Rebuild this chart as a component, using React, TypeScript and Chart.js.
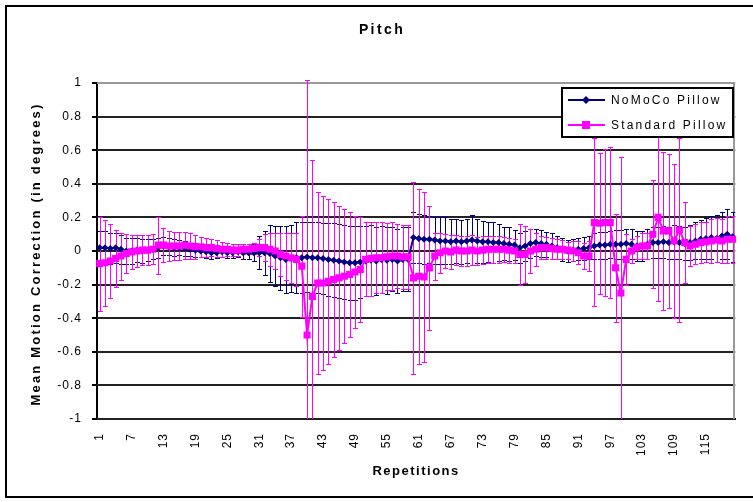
import React, { useEffect, useRef } from "react";
import { Chart, registerables } from "chart.js";

Chart.register(...registerables);

const TITLE = "Pitch";
const X_TITLE = "Repetitions";
const Y_TITLE = "Mean Motion Correction (in degrees)";
const SERIES_NAMES = ["NoMoCo Pillow", "Standard Pillow"];
const X_LABEL_STEP = 6;
const Y_MIN = -1;
const Y_MAX = 1;
const Y_STEP = 0.2;

const repetitions = Array.from({ length: 120 }, (_, i) => String(i + 1));

const nomocoMean = [
  0.02, 0.02, 0.015, 0.02, 0.01,
  0.0, 0.0, 0.005, 0.0, 0.005,
  0.01, 0.02, 0.03, 0.025, 0.02,
  0.02, 0.015, 0.01, 0.005, 0.0,
  -0.005, -0.01, -0.01, -0.005, -0.01,
  -0.01, -0.005, -0.01, -0.01, -0.01,
  -0.01, -0.01, -0.015, -0.03, -0.04,
  -0.05, -0.045, -0.04, -0.04, -0.035,
  -0.04, -0.04, -0.045, -0.05, -0.055,
  -0.06, -0.065, -0.07, -0.07, -0.065,
  -0.06, -0.055, -0.06, -0.05, -0.055,
  -0.05, -0.06, -0.05, -0.05, 0.08,
  0.075, 0.07, 0.07, 0.065, 0.06,
  0.06, 0.055, 0.06, 0.055, 0.06,
  0.065, 0.06, 0.055, 0.055, 0.05,
  0.05, 0.045, 0.04, 0.035, 0.02,
  0.03, 0.045, 0.05, 0.045, 0.04,
  0.03, 0.02, 0.01, 0.0, 0.005,
  0.01, 0.015, 0.02, 0.03, 0.035,
  0.035, 0.04, 0.04, 0.04, 0.045,
  0.04, 0.03, 0.03, 0.04, 0.05,
  0.05, 0.055, 0.05, 0.055, 0.05,
  0.045, 0.05, 0.06, 0.07, 0.075,
  0.08, 0.075, 0.09, 0.1, 0.085,
];

const nomocoErr = [
  0.1, 0.1, 0.09, 0.09, 0.085,
  0.08, 0.075, 0.07, 0.07, 0.065,
  0.06, 0.06, 0.055, 0.05, 0.05,
  0.045, 0.045, 0.04, 0.04, 0.035,
  0.035, 0.035, 0.03, 0.03, 0.03,
  0.03, 0.03, 0.035, 0.04, 0.05,
  0.1, 0.13, 0.17, 0.18, 0.19,
  0.2, 0.2, 0.21, 0.21, 0.21,
  0.21, 0.21, 0.21, 0.215, 0.22,
  0.22, 0.22, 0.22, 0.22, 0.215,
  0.21, 0.21, 0.2, 0.2, 0.2,
  0.19, 0.19, 0.19, 0.19, 0.15,
  0.145, 0.145, 0.14, 0.14, 0.14,
  0.14, 0.135, 0.13, 0.13, 0.13,
  0.15, 0.13, 0.125, 0.12, 0.12,
  0.11, 0.1, 0.1, 0.09, 0.09,
  0.09, 0.085, 0.08, 0.08, 0.075,
  0.075, 0.07, 0.07, 0.065, 0.065,
  0.065, 0.07, 0.07, 0.075, 0.08,
  0.08, 0.08, 0.085, 0.085, 0.085,
  0.09, 0.09, 0.09, 0.09, 0.09,
  0.09, 0.095, 0.095, 0.1, 0.1,
  0.1, 0.105, 0.11, 0.115, 0.12,
  0.13, 0.14, 0.14, 0.15, 0.15,
];

const standardMean = [
  -0.075, -0.07, -0.06, -0.045, -0.03,
  -0.015, -0.005, 0.0, 0.005, 0.005,
  0.01, 0.035, 0.035, 0.03, 0.03,
  0.03, 0.035, 0.03, 0.025, 0.025,
  0.02, 0.02, 0.015, 0.01, 0.01,
  0.005, 0.005, 0.01, 0.01, 0.015,
  0.02, 0.02, 0.01, 0.0, -0.02,
  -0.03, -0.04, -0.05, -0.09, -0.5,
  -0.27, -0.19, -0.19, -0.18, -0.17,
  -0.16, -0.15, -0.14, -0.125, -0.11,
  -0.05, -0.045, -0.04, -0.04, -0.035,
  -0.03, -0.03, -0.035, -0.035, -0.16,
  -0.15, -0.155, -0.1, -0.03, -0.01,
  0.0, -0.005, 0.005, 0.0, 0.0,
  0.005, 0.0, 0.005, 0.01, 0.01,
  0.01, 0.01, 0.005, 0.0, -0.02,
  -0.02, 0.0, 0.01, 0.02, 0.02,
  0.015, 0.01, 0.01, 0.005, 0.0,
  -0.01, -0.03, -0.03, 0.17, 0.165,
  0.17, 0.17, -0.1, -0.25, -0.05,
  0.0, 0.02, 0.03, 0.03, 0.1,
  0.2, 0.12, 0.12, 0.06, 0.125,
  0.05, 0.03, 0.04, 0.05, 0.055,
  0.06, 0.065, 0.06, 0.07, 0.07,
];

const standardErr = [
  0.28, 0.255, 0.22, 0.17, 0.14,
  0.115, 0.1, 0.095, 0.09, 0.09,
  0.09, 0.17, 0.1, 0.09, 0.085,
  0.085, 0.08, 0.075, 0.07, 0.06,
  0.055, 0.05, 0.05, 0.045, 0.04,
  0.035, 0.035, 0.03, 0.03, 0.035,
  0.05, 0.08, 0.1, 0.11, 0.13,
  0.14, 0.15, 0.16, 0.3, 1.52,
  0.81, 0.54, 0.52, 0.49, 0.46,
  0.43, 0.4, 0.37, 0.335, 0.31,
  0.22, 0.22, 0.21, 0.21, 0.2,
  0.2, 0.19, 0.19, 0.19, 0.57,
  0.52, 0.505, 0.37, 0.14, 0.12,
  0.1, 0.1, 0.09, 0.09, 0.09,
  0.09, 0.085, 0.085, 0.08, 0.08,
  0.08, 0.075, 0.075, 0.07, 0.18,
  0.17, 0.13, 0.1, 0.07, 0.065,
  0.06, 0.06, 0.055, 0.05, 0.06,
  0.07, 0.08, 0.09, 0.5, 0.42,
  0.44, 0.45, 0.32, 0.81, 0.15,
  0.07, 0.07, 0.08, 0.08, 0.32,
  0.5, 0.47, 0.46, 0.46, 0.55,
  0.24, 0.12, 0.12, 0.12, 0.12,
  0.13, 0.13, 0.13, 0.14, 0.14,
];

const NAVY = "#000080";
const MAGENTA = "#FF00FF";
const GRID = "#222222";
const FRAME = "#999999";
const FONT = "'Liberation Sans', Arial, Helvetica, sans-serif";

const decorPlugin = {
  id: "excelDecor",
  beforeDraw(chart: any) {
    const ctx = chart.ctx as CanvasRenderingContext2D;
    ctx.save();
    ctx.fillStyle = "#ffffff";
    ctx.fillRect(0, 0, chart.width, chart.height);
    ctx.strokeStyle = "#000000";
    ctx.lineWidth = 2;
    ctx.strokeRect(6, 6, 800, 491);
    ctx.restore();
    (ctx as any).letterSpacing = "1px";
  },
  beforeDatasetsDraw(chart: any) {
    const ctx = chart.ctx as CanvasRenderingContext2D;
    const area = chart.chartArea;
    const yScale = chart.scales.y;

    // horizontal gridlines (2px, like the reference)
    ctx.save();
    ctx.setLineDash([]);
    ctx.globalAlpha = 1;
    ctx.lineWidth = 2;
    const n = Math.round((Y_MAX - Y_MIN) / Y_STEP);
    for (let k = 0; k <= n; k++) {
      const v = Y_MIN + k * Y_STEP;
      const y = Math.round(yScale.getPixelForValue(v));
      ctx.strokeStyle = k === n ? FRAME : GRID;
      ctx.beginPath();
      ctx.moveTo(area.left, y);
      ctx.lineTo(area.right, y);
      ctx.stroke();
    }
    // plot-area right border
    ctx.strokeStyle = FRAME;
    ctx.beginPath();
    ctx.moveTo(Math.round(area.right) - 1, area.top);
    ctx.lineTo(Math.round(area.right) - 1, area.bottom);
    ctx.stroke();
    ctx.restore();

    const sets = [
      { idx: 0, mean: nomocoMean, err: nomocoErr, color: NAVY },
      { idx: 1, mean: standardMean, err: standardErr, color: MAGENTA },
    ];
    ctx.save();
    ctx.beginPath();
    ctx.rect(area.left, area.top - 6, area.right - area.left, area.bottom - area.top + 6);
    ctx.clip();
    ctx.lineWidth = 1;
    for (const s of sets) {
      const meta = chart.getDatasetMeta(s.idx);
      ctx.strokeStyle = s.color;
      ctx.beginPath();
      for (let i = 0; i < s.mean.length; i++) {
        const pt = meta.data[i];
        if (!pt) continue;
        const x = Math.round(pt.x) + 0.5;
        const yT = Math.round(yScale.getPixelForValue(s.mean[i] + s.err[i])) + 0.5;
        const yB = Math.round(yScale.getPixelForValue(s.mean[i] - s.err[i])) + 0.5;
        ctx.moveTo(x, yT);
        ctx.lineTo(x, yB);
        ctx.moveTo(x - 2.5, yT);
        ctx.lineTo(x + 2.5, yT);
        ctx.moveTo(x - 2.5, yB);
        ctx.lineTo(x + 2.5, yB);
      }
      ctx.stroke();
    }
    ctx.restore();
  },
  afterDraw(chart: any) {
    const ctx = chart.ctx as CanvasRenderingContext2D;
    const area = chart.chartArea;
    ctx.save();
    ctx.fillStyle = "#000";
    ctx.textBaseline = "middle";
    ctx.textAlign = "center";
    // chart title
    ctx.font = `bold 14px ${FONT}`;
    (ctx as any).letterSpacing = "2.4px";
    ctx.fillText(TITLE, 382, 30);
    // x title
    ctx.font = `bold 13px ${FONT}`;
    (ctx as any).letterSpacing = "1.5px";
    ctx.fillText(X_TITLE, (area.left + area.right) / 2, 471);
    // y title
    ctx.save();
    ctx.translate(36, 254);
    ctx.rotate(-Math.PI / 2);
    ctx.font = `bold 13px ${FONT}`;
    (ctx as any).letterSpacing = "2.2px";
    ctx.fillText(Y_TITLE, 0, 0);
    ctx.restore();

    // legend
    const lx = 562, ly = 88, lw = 171, lh = 49;
    ctx.fillStyle = "#fff";
    ctx.fillRect(lx, ly, lw, lh);
    ctx.strokeStyle = "#000";
    ctx.lineWidth = 2;
    ctx.strokeRect(lx, ly, lw, lh);
    const rows = [
      { name: SERIES_NAMES[0], color: NAVY, y: 100, marker: "diamond" },
      { name: SERIES_NAMES[1], color: MAGENTA, y: 125, marker: "square" },
    ];
    for (const r of rows) {
      ctx.strokeStyle = r.color;
      ctx.fillStyle = r.color;
      ctx.lineWidth = 2;
      ctx.beginPath();
      ctx.moveTo(568, r.y);
      ctx.lineTo(605, r.y);
      ctx.stroke();
      ctx.beginPath();
      if (r.marker === "diamond") {
        ctx.moveTo(586, r.y - 4);
        ctx.lineTo(590, r.y);
        ctx.lineTo(586, r.y + 4);
        ctx.lineTo(582, r.y);
        ctx.closePath();
      } else {
        ctx.rect(582, r.y - 4, 8, 8);
      }
      ctx.fill();
      ctx.fillStyle = "#000";
      ctx.font = `12px ${FONT}`;
      (ctx as any).letterSpacing = "2.2px";
      ctx.textAlign = "left";
      ctx.fillText(r.name, 611, r.y + 1);
    }
    ctx.restore();
  },
};

export default function App() {
  const ref = useRef<HTMLCanvasElement>(null);
  useEffect(() => {
    const canvas = ref.current;
    if (!canvas) return;
    const chart = new Chart(canvas, {
      type: "line",
      data: {
        labels: repetitions,
        datasets: [
          {
            label: SERIES_NAMES[0],
            data: nomocoMean,
            borderColor: NAVY,
            backgroundColor: NAVY,
            borderWidth: 2,
            pointStyle: "rectRot",
            pointRadius: 3.5,
            pointBorderWidth: 0,
            tension: 0,
            order: 1,
          },
          {
            label: SERIES_NAMES[1],
            data: standardMean,
            borderColor: MAGENTA,
            backgroundColor: MAGENTA,
            borderWidth: 2,
            pointStyle: "rect",
            pointRadius: 5,
            pointBorderWidth: 0,
            tension: 0,
            order: 0,
          },
        ],
      },
      options: {
        responsive: false,
        animation: false,
        events: [],
        layout: { padding: { left: 6, right: 8, top: 83, bottom: 6 } },
        plugins: {
          legend: { display: false },
          title: { display: false },
          tooltip: { enabled: false },
        },
        scales: {
          x: {
            type: "category",
            offset: true,
            grid: { display: false },
            border: { display: true, color: "#000", width: 2 },
            ticks: {
              autoSkip: false,
              minRotation: 90,
              maxRotation: 90,
              padding: 6,
              color: "#000",
              font: { family: FONT, size: 12 },
              callback: (_v: any, i: number) => (i % X_LABEL_STEP === 0 ? repetitions[i] : ""),
            },
            afterFit: (s: any) => {
              s.height = 77;
            },
          },
          y: {
            min: Y_MIN,
            max: Y_MAX,
            ticks: {
              stepSize: Y_STEP,
              padding: 10,
              color: "#000",
              font: { family: FONT, size: 12 },
              callback: (v: any) => String(Math.round(Number(v) * 10) / 10 || 0),
            },
            grid: {
              drawOnChartArea: false,
              color: "#000",
              tickColor: "#000",
              tickLength: 5,
              lineWidth: 2,
            },
            border: { display: true, color: "#000", width: 2 },
            afterFit: (s: any) => {
              s.width = 91;
            },
          },
        },
      },
      plugins: [decorPlugin],
    } as any);
    return () => chart.destroy();
  }, []);
  return (
    <div style={{ position: "fixed", left: 0, top: 0, width: 753, height: 502, background: "#fff" }}>
      <canvas ref={ref} width={753} height={502} style={{ display: "block", width: 753, height: 502 }} />
    </div>
  );
}
